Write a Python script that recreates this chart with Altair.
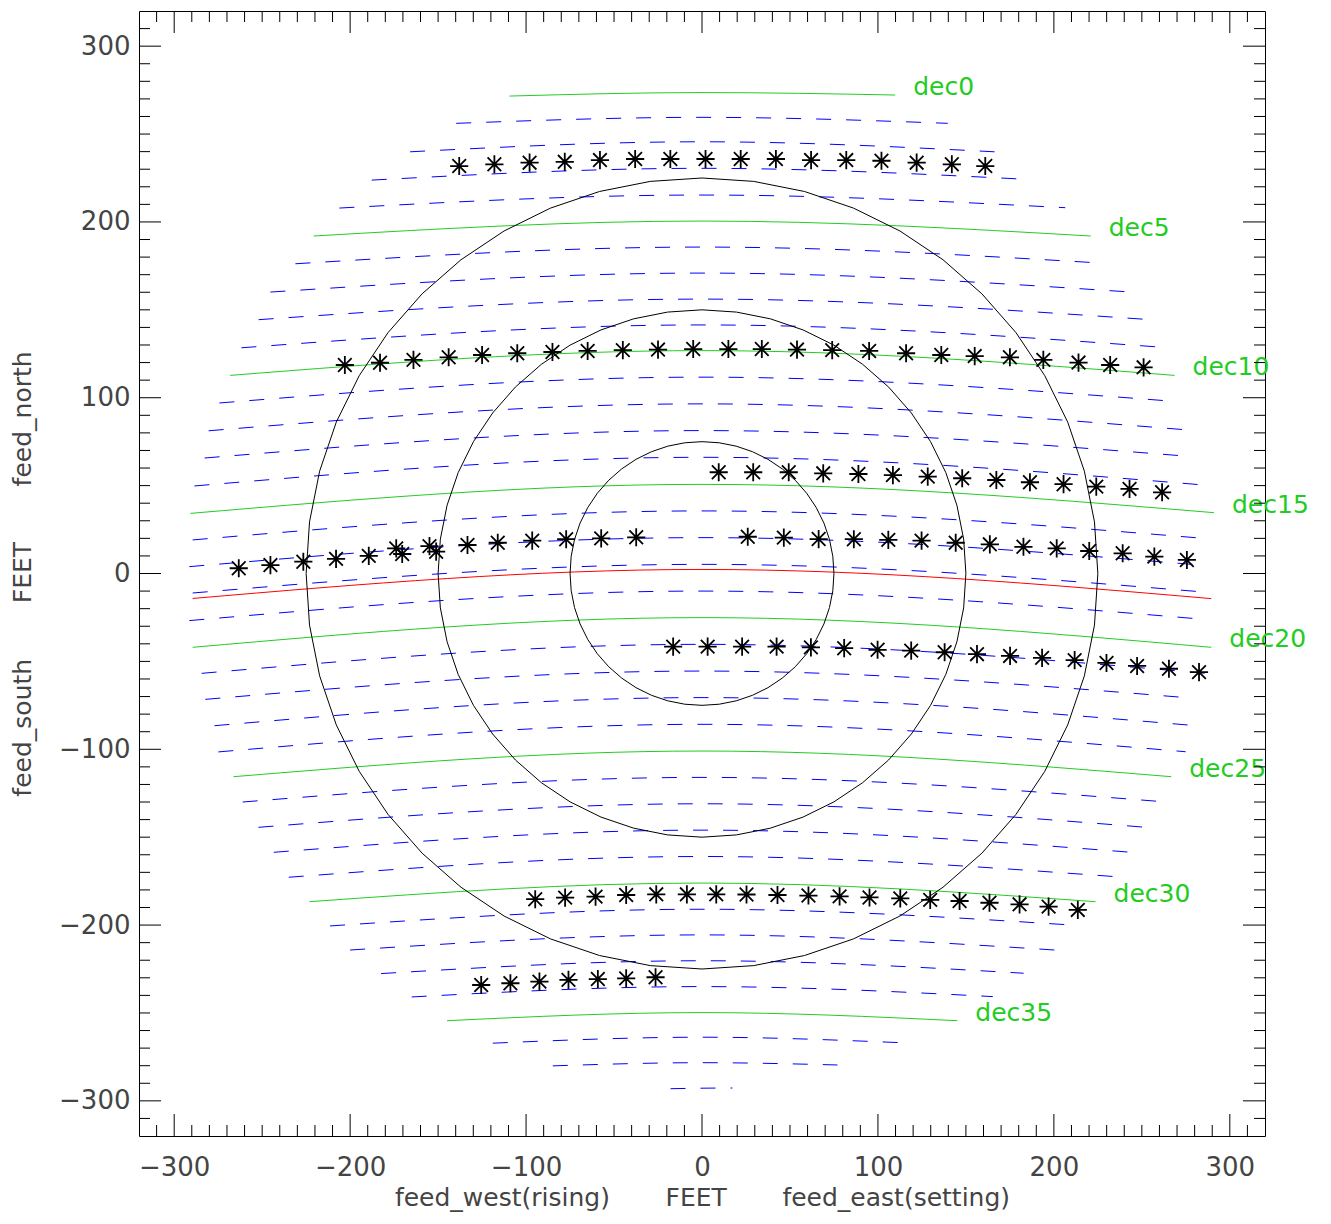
import altair as alt
import numpy as np
import pandas as pd

# ---------------- data ----------------
dec = list(range(39))
x_left = [-109.4, -139.7, -165.9, -187.7, -206.1, -220.7, -231.1, -245.3, -252.0, -261.8,
          -268.2, -274.3, -280.4, -282.7, -288.5, -290.8, -289.5, -291.4, -289.5, -291.4,
          -289.5, -284.4, -282.3, -277.1, -274.9, -266.3, -261.1, -252.1, -243.4, -234.9,
          -223.1, -211.4, -200.0, -182.4, -165.0, -144.9, -118.9, -84.8, -17.9]
y_left = [271.6, 256.1, 239.9, 223.8, 207.9, 192.0, 176.2, 160.1, 144.4, 128.4,
          112.7, 97.0, 81.2, 65.7, 49.8, 34.2, 19.1, 3.9, -11.1, -26.8,
          -42.0, -56.8, -71.6, -86.6, -101.5, -115.6, -130.0, -144.4, -158.6, -172.8,
          -186.7, -200.5, -214.2, -227.6, -240.9, -254.4, -267.2, -280.1, -293.1]
y_mid = [273.6, 259.5, 245.6, 230.5, 215.3, 200.5, 185.7, 170.9, 156.1, 141.4,
         126.8, 111.7, 96.5, 81.3, 66.1, 50.7, 35.6, 20.4, 5.2, -10.0,
         -25.1, -40.3, -55.5, -70.6, -85.8, -101.0, -116.0, -131.0, -146.0, -161.0,
         -176.1, -191.0, -205.6, -220.3, -235.0, -249.8, -263.8, -278.3, -292.8]
x_right = [109.8, 139.7, 166.3, 181.5, 206.5, 220.9, 223.7, 244.0, 252.0, 261.6,
           268.6, 266.2, 276.8, 274.9, 285.7, 291.0, 285.1, 283.2, 284.7, 283.2,
           289.5, 287.4, 274.9, 277.5, 274.9, 266.7, 261.6, 252.5, 244.0, 235.5,
           223.7, 208.9, 200.4, 182.8, 165.3, 145.1, 112.7, 77.0, 17.3]
y_right = [272.2, 256.1, 239.9, 224.4, 208.1, 192.0, 176.8, 160.1, 144.6, 128.7,
           112.7, 98.1, 81.6, 66.8, 50.3, 34.6, 20.0, 4.8, -10.5, -25.9,
           -42.0, -56.9, -70.6, -86.3, -101.4, -115.6, -129.8, -144.4, -158.6, -172.5,
           -186.7, -199.9, -214.2, -227.4, -240.7, -254.4, -266.9, -279.6, -292.7]

# red (zenith) track: left end, middle, right end
red_x = [-289.5, 0.0, 289.5]
red_y = [-14.2, 2.3, -14.3]

# circles of constant zenith angle (feet)
circle_r = [75, 150, 225]

# asterisks: measured feed positions
star_x = [
    # row near dec2-3
    -138, -118, -98, -78, -58, -38, -18, 2, 22, 42, 62, 82, 102, 122, 142, 161,
    # row on dec10
    -203, -183, -164, -144, -125, -105, -85, -65, -45, -25, -5, 15, 34, 54, 74, 95,
    116, 136, 155, 175, 194, 214, 232, 251,
    # row near dec14 (right)
    9.5, 29.1, 49.3, 68.9, 88.9, 108.5, 128.3, 147.9, 167.3, 186.4, 205.5, 224.1, 243.0, 261.5,
    # rows near dec16-17 (left)
    -263.3, -245.3, -226.6, -208.0, -189.4, -173.8, -170.4, -154.9, -151.1, -133.3, -116.1,
    -96.5, -77.2, -57.3, -37.4,
    # row near dec17 (right)
    26.0, 46.5, 66.3, 86.3, 105.9, 124.8, 144.2, 163.6, 182.7, 201.6, 220.1, 239.1, 257.1, 275.6,
    # row on dec21
    -16.4, 3.2, 22.8, 42.4, 61.9, 80.8, 99.8, 118.9, 137.9, 156.3, 175.1, 193.3, 211.8, 229.9,
    247.3, 265.4, 282.5,
    # row near dec30
    -94.8, -77.8, -60.5, -43.1, -26.0, -8.6, 8.1, 25.3, 42.9, 60.5, 78.2, 95.2, 112.7, 129.7,
    146.4, 163.4, 180.5, 197.0, 213.6,
    # row near dec34
    -125.5, -108.9, -92.4, -75.9, -59.2, -43.1, -26.4,
]
star_y = [
    231.8, 232.8, 233.7, 234.2, 235.2, 235.8, 235.8, 235.8, 235.8, 235.8, 235.2, 235.2, 234.8,
    233.7, 232.8, 231.8,
    118.6, 119.9, 121.5, 123.0, 124.3, 125.3, 126.0, 126.6, 127.1, 127.4, 127.7, 127.7, 127.7,
    127.4, 127.1, 126.6, 125.3, 124.3, 123.7, 123.0, 121.5, 120.0, 118.6, 117.3,
    57.6, 57.6, 57.6, 57.0, 56.6, 56.0, 55.1, 54.2, 53.2, 51.9, 50.8, 49.4, 48.1, 46.2,
    3.0, 4.8, 6.7, 8.3, 10.0, 14.3, 11.1, 15.6, 12.4, 16.2, 17.5, 18.7, 19.5, 20.0, 20.6,
    20.9, 20.4, 19.6, 19.5, 19.1, 18.7, 17.5, 16.6, 15.2, 14.3, 12.8, 11.5, 9.6, 7.7,
    -41.6, -41.6, -41.6, -41.6, -42.0, -42.5, -43.4, -43.9, -44.8, -45.9, -46.9, -48.0, -49.3,
    -50.9, -52.6, -54.2, -56.1,
    -185.3, -184.4, -183.8, -182.9, -182.5, -182.5, -182.5, -182.6, -182.9, -183.2, -183.7,
    -184.3, -184.8, -185.7, -186.3, -187.3, -188.2, -189.5, -191.4,
    -234.1, -233.1, -232.2, -231.2, -230.7, -230.3, -229.7,
]

major_ticks = [-300, -200, -100, 0, 100, 200, 300]
minor_ticks = [v for v in range(-310, 311, 10) if v % 100 != 0]

x_title_parts = ["feed_west(rising)", "FEET", "feed_east(setting)"]
y_title_parts = ["feed_south", "FEET", "feed_north"]

# ---------------- tables ----------------
line_rows = []
for d, xl, yl, yc, xr, yr in zip(dec, x_left, y_left, y_mid, x_right, y_right):
    kind = "green" if d % 5 == 0 else "blue"
    for k, (xx, yy) in enumerate([(xl, yl), (0.0, yc), (xr, yr)]):
        line_rows.append({"dec": d, "kind": kind, "ord": k, "x": xx, "y": yy})
lines = pd.DataFrame(line_rows)
blue_df = lines[lines.kind == "blue"]
green_df = lines[lines.kind == "green"]
red_df = pd.DataFrame({"x": red_x, "y": red_y, "ord": [0, 1, 2]})

label_df = pd.DataFrame([
    {"x": xr, "y": yr, "text": f"dec{d}"}
    for d, xr, yr in zip(dec, x_right, y_right) if d % 5 == 0
])

n_seg = 48
circ_rows = []
for r in circle_r:
    for i in range(n_seg + 1):
        t = 2 * np.pi * i / n_seg - np.pi / 2
        circ_rows.append({"r": r, "i": i, "x": r * np.cos(t), "y": r * np.sin(t)})
circ_df = pd.DataFrame(circ_rows)

star_df = pd.DataFrame({"x": star_x, "y": star_y})
major_df = pd.DataFrame({"v": major_ticks})
minor_df = pd.DataFrame({"v": minor_ticks})

# ---------------- styling ----------------
W, H = 1126, 1125
FONT = "DejaVu Sans"
GREEN = "#22cc22"
GREY = "#444444"
NB = "\u00a0"

xs = alt.Scale(domain=[-320, 320], nice=False, zero=False)
ys = alt.Scale(domain=[-320, 320], nice=False, zero=False)

x_axis = alt.Axis(
    values=major_ticks, ticks=False, tickSize=0, domain=False, grid=False,
    labelFont=FONT, labelFontSize=26, labelColor=GREY, labelPadding=18,
    title=(NB * 7).join(x_title_parts), titleFont=FONT, titleFontSize=25,
    titleFontWeight="normal", titleColor=GREY, titleX=W / 2, titleY=61,
    titleBaseline="middle",
)
y_axis = alt.Axis(
    values=major_ticks, ticks=False, tickSize=0, domain=False, grid=False,
    labelFont=FONT, labelFontSize=26, labelColor=GREY, labelPadding=9,
    title=(NB * 7).join(y_title_parts), titleFont=FONT, titleFontSize=25,
    titleFontWeight="normal", titleColor=GREY, titleX=-117, titleY=H / 2,
    titleBaseline="middle", titleAngle=-90,
)

X = lambda f="x": alt.X(f"{f}:Q", scale=xs, axis=x_axis)
Y = lambda f="y": alt.Y(f"{f}:Q", scale=ys, axis=y_axis)

blue = alt.Chart(blue_df).mark_line(
    interpolate="monotone", color="#0000ff", strokeWidth=1, strokeDash=[15, 15]
).encode(x=X(), y=Y(), detail="dec:N", order="ord:Q")

green = alt.Chart(green_df).mark_line(
    interpolate="monotone", color=GREEN, strokeWidth=1
).encode(x=X(), y=Y(), detail="dec:N", order="ord:Q")

red = alt.Chart(red_df).mark_line(
    interpolate="monotone", color="#ff0000", strokeWidth=1
).encode(x=X(), y=Y(), order="ord:Q")

labels = alt.Chart(label_df).mark_text(
    align="left", baseline="middle", dx=18, dy=-8, font=FONT, fontSize=25, color=GREEN
).encode(x=X(), y=Y(), text="text:N")

circles = alt.Chart(circ_df).mark_line(color="black", strokeWidth=1).encode(
    x=X(), y=Y(), detail="r:N", order="i:Q"
)

STAR = "M-1,0L1,0M0,-1L0,1M-0.75,-0.75L0.75,0.75M-0.75,0.75L0.75,-0.75"
stars = alt.Chart(star_df).mark_point(
    shape=STAR, size=330, filled=False, stroke="black", strokeWidth=1.8, opacity=1
).encode(x=X(), y=Y())

MAJ, MIN = 22, 11
tick_layers = [
    alt.Chart(major_df).mark_rule(color="black", strokeWidth=1).encode(
        x=X("v"), y=alt.value(H), y2=alt.value(H - MAJ)),
    alt.Chart(major_df).mark_rule(color="black", strokeWidth=1).encode(
        x=X("v"), y=alt.value(0), y2=alt.value(MAJ)),
    alt.Chart(minor_df).mark_rule(color="black", strokeWidth=1).encode(
        x=X("v"), y=alt.value(H), y2=alt.value(H - MIN)),
    alt.Chart(minor_df).mark_rule(color="black", strokeWidth=1).encode(
        x=X("v"), y=alt.value(0), y2=alt.value(MIN)),
    alt.Chart(major_df).mark_rule(color="black", strokeWidth=1).encode(
        y=Y("v"), x=alt.value(0), x2=alt.value(MAJ)),
    alt.Chart(major_df).mark_rule(color="black", strokeWidth=1).encode(
        y=Y("v"), x=alt.value(W), x2=alt.value(W - MAJ)),
    alt.Chart(minor_df).mark_rule(color="black", strokeWidth=1).encode(
        y=Y("v"), x=alt.value(0), x2=alt.value(MIN)),
    alt.Chart(minor_df).mark_rule(color="black", strokeWidth=1).encode(
        y=Y("v"), x=alt.value(W), x2=alt.value(W - MIN)),
]

chart = alt.layer(
    blue, green, red, circles, stars, labels, *tick_layers
).properties(
    width=W, height=H,
    autosize=alt.AutoSizeParams(type="none"),
    padding={"left": 131, "top": 3, "right": 58, "bottom": 80},
    background="white",
).configure_view(stroke="black", strokeWidth=1)

chart.save("out.html", embed_options={"renderer": "svg", "actions": False})
